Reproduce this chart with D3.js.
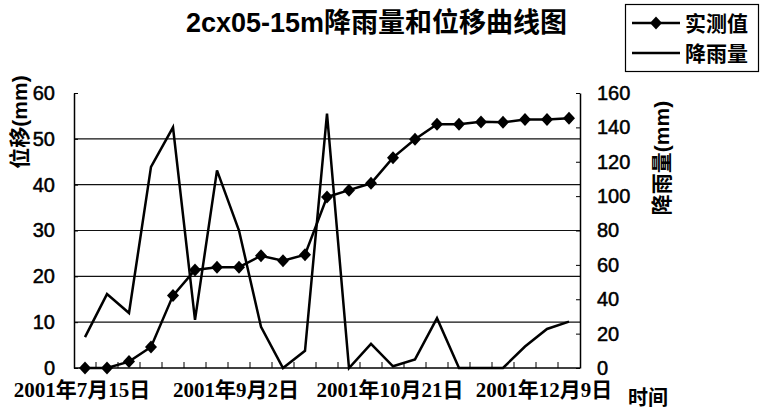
<!DOCTYPE html>
<html>
<head>
<meta charset="utf-8">
<script src="https://cdn.jsdelivr.net/npm/d3@7"></script>
<style>
  body { margin: 0; background: #fff; overflow: hidden; }
  svg { display: block; }
  .axis path, .axis line { stroke: #000; }
  .axis text { font-family: "Liberation Sans", Arial, sans-serif; font-size: 20px; fill: #000;
    stroke: #000; stroke-width: 0.5px; }
</style>
</head>
<body>
<div id="chart"></div>
<script>
// weekly readings
var dates = ["2001-07-15","2001-07-22","2001-07-29","2001-08-05","2001-08-12","2001-08-19",
  "2001-08-26","2001-09-02","2001-09-09","2001-09-16","2001-09-23","2001-09-30","2001-10-07",
  "2001-10-14","2001-10-21","2001-10-28","2001-11-04","2001-11-11","2001-11-18","2001-11-25",
  "2001-12-02","2001-12-09","2001-12-16"]
var displacement = [0,0,1.4,4.6,15.8,21.4,22.0,22.0,24.5,23.4,24.7,37.3,38.8,40.3,45.9,49.9,
  53.2,53.2,53.7,53.6,54.2,54.2,54.5]
var rainfall = [18,43,32,117,140,28,115,80,24,0,10,148,0,14,1,5,29,0,0,0,12.5,22.7,27]

var labelDates = ["2001-07-15","2001-09-02","2001-10-21","2001-12-09"]
var labelText = ["2001年7月15日","2001年9月2日","2001年10月21日","2001年12月9日"]
var leftTicks = [0,10,20,30,40,50,60]
var rightTicks = [0,20,40,60,80,100,120,140,160]

var width = 761
var height = 413
var margin = {top: 93, right: 181, bottom: 45, left: 74}
var innerWidth = width - margin.left - margin.right
var innerHeight = height - margin.top - margin.bottom

var svg = d3.select("#chart").append("svg")
  .attr("width", width)
  .attr("height", height)

svg.append("text")
  .attr("x", 186).attr("y", 32)
  .style("font-family", "'Liberation Sans', 'Noto Sans CJK SC', sans-serif")
  .style("font-weight", "bold")
  .style("font-size", "27px")
  .text("2cx05-15m降雨量和位移曲线图")

var g = svg.append("g")
  .attr("transform", `translate(${margin.left},${margin.top})`)

var x = d3.scaleBand().domain(dates).range([0, innerWidth]).padding(0)
var yL = d3.scaleLinear().domain([0, 60]).range([innerHeight, 0])
var yR = d3.scaleLinear().domain([0, 160]).range([innerHeight, 0])
var cx = d => x(d) + x.bandwidth() / 2

// grid lines
g.append("g").selectAll("line")
  .data(leftTicks.filter(v => v > 0 && v < 60))
  .enter().append("line")
    .attr("x1", 0).attr("x2", innerWidth)
    .attr("y1", d => yL(d)).attr("y2", d => yL(d))
    .attr("stroke", "#111").attr("stroke-width", 1.2)

// left axis
g.append("g").attr("class", "axis")
  .call(d3.axisLeft(yL).tickValues(leftTicks).tickSize(-4).tickSizeOuter(0).tickPadding(19))
  .select(".domain").attr("stroke-width", 1.5)

// right axis
g.append("g").attr("class", "axis")
  .attr("transform", `translate(${innerWidth},0)`)
  .call(d3.axisRight(yR).tickValues(rightTicks).tickSize(-4).tickSizeOuter(0).tickPadding(17))
  .select(".domain").attr("stroke-width", 1.5)

// bottom axis with ticks on category boundaries
var xAxis = g.append("g")
  .attr("transform", `translate(0,${innerHeight})`)
xAxis.append("line")
  .attr("x1", 0).attr("x2", innerWidth)
  .attr("stroke", "#000").attr("stroke-width", 1.5)
xAxis.selectAll(".bt").data(dates.slice(1))
  .enter().append("line").attr("class", "bt")
    .attr("x1", d => x(d)).attr("x2", d => x(d))
    .attr("y1", 0).attr("y2", -6)
    .attr("stroke", "#000")
xAxis.selectAll(".xl").data(labelDates)
  .enter().append("text").attr("class", "xl")
    .attr("x", d => cx(d) - 3)
    .attr("y", 29)
    .attr("text-anchor", "middle")
    .style("font-family", "'Liberation Serif', 'Noto Sans CJK SC', serif")
    .style("font-weight", "bold")
    .style("font-size", "21px")
    .text((d, i) => labelText[i])

svg.append("text")
  .attr("x", 628).attr("y", 405)
  .style("font-family", "'Noto Sans CJK SC', sans-serif")
  .style("font-weight", "bold")
  .style("font-size", "20px")
  .text("时间")

// axis titles
svg.append("text")
  .attr("transform", "translate(27,122) rotate(-90)")
  .attr("text-anchor", "middle")
  .style("font-family", "'Liberation Sans', 'Noto Sans CJK SC', sans-serif")
  .style("font-weight", "bold")
  .style("font-size", "21px")
  .text("位移(mm)")

svg.append("text")
  .attr("transform", "translate(669,158) rotate(-90)")
  .attr("text-anchor", "middle")
  .style("font-family", "'Liberation Sans', 'Noto Sans CJK SC', sans-serif")
  .style("font-weight", "bold")
  .style("font-size", "21px")
  .text("降雨量(mm)")

// rainfall line
var rainLine = d3.line().x((d, i) => cx(dates[i])).y(d => yR(d))
g.append("path").datum(rainfall)
  .attr("d", rainLine)
  .attr("fill", "none").attr("stroke", "#000").attr("stroke-width", 2.5)

// displacement line with diamonds
var dispLine = d3.line().x((d, i) => cx(dates[i])).y(d => yL(d))
g.append("path").datum(displacement)
  .attr("d", dispLine)
  .attr("fill", "none").attr("stroke", "#000").attr("stroke-width", 2.5)

var diamond = "M0,-6.5L6,0L0,6.5L-6,0Z"
g.selectAll(".pt").data(displacement)
  .enter().append("path").attr("class", "pt")
    .attr("transform", (d, i) => `translate(${cx(dates[i])},${yL(d)})`)
    .attr("d", diamond)
    .attr("fill", "#000")

// legend
var lg = svg.append("g")
lg.append("rect")
  .attr("x", 625.5).attr("y", 4.5).attr("width", 133).attr("height", 67)
  .attr("fill", "none").attr("stroke", "#000").attr("stroke-width", 1.2)
lg.append("line").attr("x1", 632).attr("x2", 680).attr("y1", 23).attr("y2", 23)
  .attr("stroke", "#000").attr("stroke-width", 2.5)
lg.append("path").attr("d", diamond).attr("transform", "translate(656,23)").attr("fill", "#000")
lg.append("line").attr("x1", 632).attr("x2", 680).attr("y1", 53).attr("y2", 53)
  .attr("stroke", "#000").attr("stroke-width", 2.5)
lg.selectAll(".lt").data(["实测值", "降雨量"])
  .enter().append("text").attr("class", "lt")
    .attr("x", 685).attr("y", (d, i) => 31 + i * 30)
    .style("font-family", "'Noto Sans CJK SC', sans-serif")
    .style("font-weight", "bold")
    .style("font-size", "21px")
    .text(d => d)
</script>
</body>
</html>
